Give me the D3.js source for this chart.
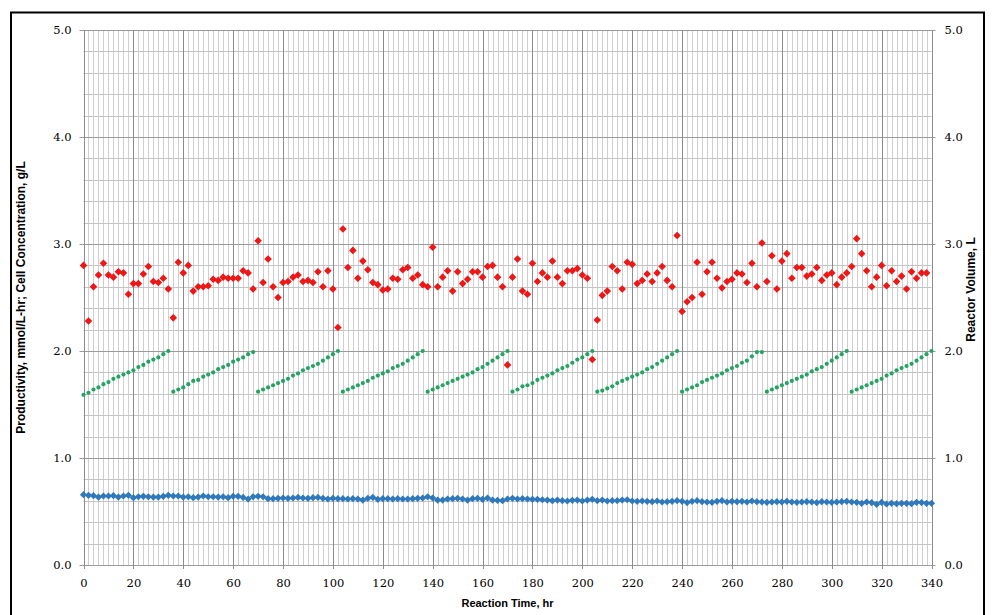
<!DOCTYPE html>
<html>
<head>
<meta charset="utf-8">
<script src="https://cdn.jsdelivr.net/npm/d3@7"></script>
<style>
  html, body { margin: 0; padding: 0; background: #fff; }
  svg { display: block; }
  .tick-label { font-family: "DejaVu Serif", serif; font-size: 11.5px; fill: #000; }
  .axis-title { font-family: "Liberation Sans", Arial, sans-serif; font-size: 11px; font-weight: bold; fill: #000; }
  .axis-title.side { font-size: 12px; }
</style>
</head>
<body>
<svg id="chart" width="992" height="615"></svg>
<script>
// Sampling times, hr (one reading every 2 hours)
const timeDomain = [0, 340];
const timeTicks = [0, 20, 40, 60, 80, 100, 120, 140, 160, 180, 200, 220, 240, 260, 280, 300, 320, 340];
const leftTicks = [0, 1, 2, 3, 4, 5];
const rightTicks = [0, 1, 2, 3, 4, 5];

// Productivity, mmol/L-hr (hr 0 .. 338)
const productivity = [
  2.80, 2.28, 2.60, 2.71, 2.82, 2.71, 2.69, 2.74, 2.73, 2.53,
  2.63, 2.63, 2.72, 2.79, 2.65, 2.64, 2.68, 2.58, 2.31, 2.83,
  2.73, 2.80, 2.56, 2.60, 2.60, 2.61, 2.67, 2.66, 2.69, 2.68,
  2.68, 2.68, 2.75, 2.73, 2.58, 3.03, 2.64, 2.86, 2.60, 2.50,
  2.64, 2.65, 2.69, 2.71, 2.65, 2.66, 2.64, 2.74, 2.60, 2.75,
  2.58, 2.22, 3.14, 2.78, 2.94, 2.68, 2.84, 2.76, 2.64, 2.62,
  2.57, 2.58, 2.68, 2.67, 2.76, 2.78, 2.68, 2.71, 2.62, 2.60,
  2.97, 2.60, 2.69, 2.75, 2.56, 2.74, 2.63, 2.67, 2.74, 2.74,
  2.69, 2.79, 2.80, 2.69, 2.60, 1.87, 2.69, 2.86, 2.56, 2.53,
  2.82, 2.65, 2.73, 2.69, 2.84, 2.69, 2.63, 2.75, 2.75, 2.77,
  2.71, 2.68, 1.92, 2.29, 2.52, 2.56, 2.79, 2.75, 2.58, 2.83,
  2.81, 2.63, 2.66, 2.72, 2.65, 2.73, 2.79, 2.66, 2.60, 3.08,
  2.37, 2.46, 2.50, 2.83, 2.53, 2.74, 2.83, 2.68, 2.59, 2.65,
  2.67, 2.73, 2.72, 2.64, 2.82, 2.60, 3.01, 2.65, 2.89, 2.58,
  2.84, 2.91, 2.68, 2.78, 2.78, 2.70, 2.72, 2.78, 2.66, 2.71,
  2.73, 2.62, 2.69, 2.73, 2.79, 3.05, 2.91, 2.75, 2.60, 2.69,
  2.80, 2.61, 2.75, 2.65, 2.70, 2.58, 2.74, 2.68, 2.73, 2.73
];

// Reactor volume, L (hr 0 .. 340), fill-and-draw cycles
const reactorVolume = [
  1.59, 1.61, 1.64, 1.66, 1.69, 1.71, 1.74, 1.76, 1.78, 1.80, 1.82, 1.85, 1.87, 1.90, 1.92, 1.94, 1.97, 2.00,
  1.62, 1.64, 1.66, 1.69, 1.72, 1.73, 1.76, 1.78, 1.80, 1.83, 1.85, 1.87, 1.90, 1.92, 1.94, 1.97, 1.99,
  1.62, 1.64, 1.66, 1.68, 1.70, 1.72, 1.74, 1.77, 1.79, 1.82, 1.84, 1.86, 1.88, 1.91, 1.94, 1.97, 2.00,
  1.62, 1.64, 1.66, 1.68, 1.70, 1.72, 1.75, 1.77, 1.79, 1.81, 1.84, 1.86, 1.88, 1.91, 1.94, 1.97, 2.00,
  1.62, 1.64, 1.66, 1.68, 1.70, 1.72, 1.74, 1.76, 1.78, 1.80, 1.83, 1.85, 1.88, 1.91, 1.94, 1.97, 2.00,
  1.62, 1.64, 1.67, 1.68, 1.70, 1.73, 1.75, 1.77, 1.79, 1.82, 1.84, 1.86, 1.89, 1.92, 1.94, 1.97, 2.00,
  1.62, 1.63, 1.65, 1.67, 1.70, 1.72, 1.74, 1.76, 1.78, 1.80, 1.83, 1.85, 1.88, 1.91, 1.94, 1.97, 2.00,
  1.62, 1.64, 1.66, 1.68, 1.71, 1.73, 1.75, 1.77, 1.79, 1.82, 1.84, 1.86, 1.89, 1.91, 1.95, 1.99, 1.99,
  1.62, 1.64, 1.66, 1.68, 1.70, 1.72, 1.74, 1.76, 1.78, 1.81, 1.83, 1.85, 1.88, 1.91, 1.94, 1.97, 2.00,
  1.62, 1.64, 1.66, 1.68, 1.70, 1.72, 1.74, 1.77, 1.79, 1.82, 1.84, 1.86, 1.88, 1.91, 1.94, 1.97, 2.00
];

// Cell concentration, g/L (hr 0 .. 340)
const cellConcentration = [
  0.657, 0.651, 0.648, 0.635, 0.645, 0.645, 0.648, 0.635, 0.645, 0.651,
  0.629, 0.638, 0.642, 0.638, 0.635, 0.635, 0.642, 0.651, 0.645, 0.645,
  0.635, 0.638, 0.629, 0.635, 0.645, 0.638, 0.638, 0.635, 0.638, 0.629,
  0.642, 0.642, 0.632, 0.617, 0.638, 0.642, 0.638, 0.620, 0.620, 0.623,
  0.626, 0.623, 0.626, 0.632, 0.626, 0.623, 0.629, 0.632, 0.623, 0.617,
  0.623, 0.620, 0.620, 0.617, 0.620, 0.617, 0.607, 0.623, 0.632, 0.614,
  0.620, 0.620, 0.617, 0.620, 0.617, 0.617, 0.620, 0.623, 0.626, 0.638,
  0.626, 0.607, 0.607, 0.617, 0.620, 0.623, 0.617, 0.607, 0.620, 0.623,
  0.614, 0.626, 0.607, 0.604, 0.601, 0.617, 0.623, 0.617, 0.620, 0.617,
  0.614, 0.614, 0.610, 0.607, 0.601, 0.607, 0.601, 0.598, 0.604, 0.607,
  0.598, 0.607, 0.614, 0.601, 0.607, 0.598, 0.601, 0.601, 0.607, 0.610,
  0.598, 0.595, 0.598, 0.595, 0.592, 0.598, 0.589, 0.592, 0.595, 0.601,
  0.595, 0.583, 0.595, 0.601, 0.592, 0.589, 0.586, 0.595, 0.601, 0.589,
  0.595, 0.592, 0.595, 0.589, 0.598, 0.592, 0.589, 0.586, 0.589, 0.592,
  0.589, 0.595, 0.589, 0.586, 0.589, 0.592, 0.589, 0.583, 0.592, 0.589,
  0.586, 0.589, 0.592, 0.595, 0.589, 0.586, 0.576, 0.589, 0.583, 0.567,
  0.586, 0.570, 0.576, 0.573, 0.576, 0.576, 0.573, 0.586, 0.583, 0.576,
  0.576
];

const times = d3.range(0, 341, 2);

const svg = d3.select("#chart");
const plot = { left: 83.5, right: 931.5, top: 30, bottom: 565 };

const x = d3.scaleLinear().domain(timeDomain).range([plot.left, plot.right]);
const yL = d3.scaleLinear().domain([0, 5]).range([plot.bottom, plot.top]);
const yR = d3.scaleLinear().domain([0, 5]).range([plot.bottom, plot.top]);

// Outer frame
svg.append("rect")
  .attr("x", 11).attr("y", 12.5)
  .attr("width", 973).attr("height", 640)
  .attr("fill", "none").attr("stroke", "#000").attr("stroke-width", 2);

// Grid: minor lines every 2 hr / 0.2 units, major every 20 hr / 1.0 unit
const grid = svg.append("g");
const minorX = d3.range(0, 341, 2).filter(t => t % 20 !== 0);
const minorY = d3.range(0, 25).map(i => i / 5).filter(v => Math.abs(v - Math.round(v)) > 1e-6);

grid.selectAll(".vminor").data(minorX).join("line")
  .attr("x1", d => Math.round(x(d)) + 0.5).attr("x2", d => Math.round(x(d)) + 0.5)
  .attr("y1", plot.top).attr("y2", plot.bottom)
  .attr("stroke", "#cfcfcf").attr("stroke-width", 1);
grid.selectAll(".hminor").data(minorY).join("line")
  .attr("x1", plot.left).attr("x2", plot.right)
  .attr("y1", d => Math.round(yL(d)) + 0.5).attr("y2", d => Math.round(yL(d)) + 0.5)
  .attr("stroke", "#c4c4c4").attr("stroke-width", 1);
grid.selectAll(".hmajor").data(leftTicks).join("line")
  .attr("x1", plot.left - 4).attr("x2", plot.right + 4)
  .attr("y1", d => Math.round(yL(d)) + 0.5).attr("y2", d => Math.round(yL(d)) + 0.5)
  .attr("stroke", "#9a9a9a").attr("stroke-width", 1);
grid.selectAll(".vmajor").data(timeTicks).join("line")
  .attr("x1", d => Math.round(x(d)) + 0.5).attr("x2", d => Math.round(x(d)) + 0.5)
  .attr("y1", plot.top).attr("y2", plot.bottom + 4)
  .attr("stroke", "#8c8c8c").attr("stroke-width", 1);

// Axes (labels only; lines come from the grid)
const fmt = d3.format(".1f");
const xAxis = d3.axisBottom(x).tickValues(timeTicks).tickSize(0).tickPadding(0);
const gx = svg.append("g").attr("transform", `translate(0,${plot.bottom})`).call(xAxis);
gx.select(".domain").remove();
gx.selectAll("text").attr("class", "tick-label").attr("dy", null).attr("y", 22);

const leftAxis = d3.axisLeft(yL).tickValues(leftTicks).tickFormat(fmt).tickSize(0).tickPadding(12);
const gl = svg.append("g").attr("transform", `translate(${plot.left},0)`).call(leftAxis);
gl.select(".domain").remove();
gl.selectAll("text").attr("class", "tick-label").attr("dy", "0.32em");

const rightAxis = d3.axisRight(yR).tickValues(rightTicks).tickFormat(fmt).tickSize(0).tickPadding(13);
const gr = svg.append("g").attr("transform", `translate(${plot.right},0)`).call(rightAxis);
gr.select(".domain").remove();
gr.selectAll("text").attr("class", "tick-label").attr("dy", "0.32em");

// Marker shapes
const diamond = r => `M0,${-r}L${r},0L0,${r}L${-r},0Z`;

// Cell concentration (blue diamonds)
svg.append("g").selectAll("path").data(cellConcentration).join("path")
  .attr("transform", (d, i) => `translate(${x(times[i])},${yL(d)})`)
  .attr("d", diamond(3.6))
  .attr("fill", "#2e78bd");

// Reactor volume (green dots, right axis)
svg.append("g").selectAll("circle").data(reactorVolume).join("circle")
  .attr("cx", (d, i) => x(times[i]))
  .attr("cy", d => yR(d))
  .attr("r", 2.1)
  .attr("fill", "#23a462");

// Productivity (red diamonds)
svg.append("g").selectAll("path").data(productivity).join("path")
  .attr("transform", (d, i) => `translate(${x(times[i])},${yL(d)})`)
  .attr("d", diamond(3.8))
  .attr("fill", "#f01616");

// Axis titles
svg.append("text").attr("class", "axis-title")
  .attr("x", (plot.left + plot.right) / 2).attr("y", 607)
  .attr("text-anchor", "middle")
  .text("Reaction Time, hr");

svg.append("text").attr("class", "axis-title side")
  .attr("transform", `translate(25,${(plot.top + plot.bottom) / 2}) rotate(-90)`)
  .attr("text-anchor", "middle")
  .text("Productivity, mmol/L-hr; Cell Concentration, g/L");

svg.append("text").attr("class", "axis-title side")
  .attr("transform", `translate(975,${(plot.top + plot.bottom) / 2 - 8}) rotate(-90)`)
  .attr("text-anchor", "middle")
  .text("Reactor Volume, L");
</script>
</body>
</html>
